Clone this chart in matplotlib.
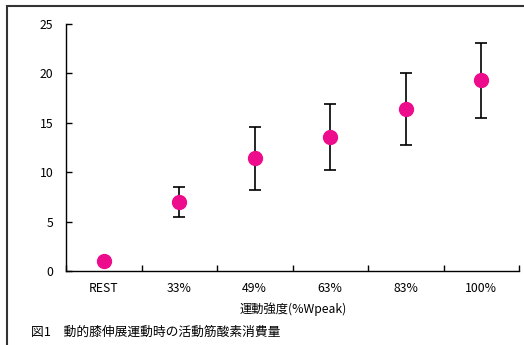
import matplotlib
matplotlib.use("Agg")
import matplotlib.pyplot as plt
from matplotlib.patches import Rectangle

plt.rcParams['font.family'] = ['Noto Sans CJK JP', 'DejaVu Sans']

categories = ["REST", "33%", "49%", "63%", "83%", "100%"]
values = [1.0, 7.0, 11.4, 13.6, 16.4, 19.3]
err_low = [0.0, 1.5, 3.2, 3.4, 3.6, 3.8]
err_high = [0.0, 1.5, 3.2, 3.3, 3.6, 3.8]
yticks = [0, 5, 10, 15, 20, 25]
xlabel = "運動強度(%Wpeak)"
caption = "図1\u3000動的膝伸展運動時の活動筋酸素消費量"

fig = plt.figure(figsize=(5.24, 3.45), dpi=100)
ax = fig.add_axes([66/524, 1-271/345, (519-66)/524, (271-24)/345])

x = list(range(len(categories)))
ax.errorbar(x, values, yerr=[err_low, err_high], fmt='none', ecolor='black',
            elinewidth=1.2, capsize=4, capthick=1.2, zorder=2)
ax.plot(x, values, 'o', color='#EC0C8C', markersize=10, zorder=3)

ax.set_xlim(-0.5, len(categories) - 0.5)
ax.set_ylim(0, 25)
ax.set_yticks(yticks)
ax.set_xticks([i + 0.5 for i in range(-1, len(categories))], minor=False)
ax.set_xticklabels([])
ax.set_xticks(x, minor=True)
ax.set_xticklabels(categories, minor=True)
ax.tick_params(axis='x', which='major', direction='in', length=4, width=1)
ax.tick_params(axis='x', which='minor', length=0, pad=8, labelsize=8.8)
ax.tick_params(axis='y', direction='in', length=4, width=1, labelsize=8.8, pad=9)
for s in ['top', 'right']:
    ax.spines[s].set_visible(False)
for s in ['left', 'bottom']:
    ax.spines[s].set_linewidth(1)

fig.text(293/524, 1-309/345, xlabel, ha='center', va='center', fontsize=8.8)
fig.text(31/524, 1-332/345, caption, ha='left', va='center', fontsize=9.2)

fig.patches.append(Rectangle((7/524, -0.1), 1.2, 1.1 - 6/345,
                             transform=fig.transFigure, fill=False,
                             edgecolor='#333333', linewidth=1.5))

fig.savefig("out.png", dpi=100)
